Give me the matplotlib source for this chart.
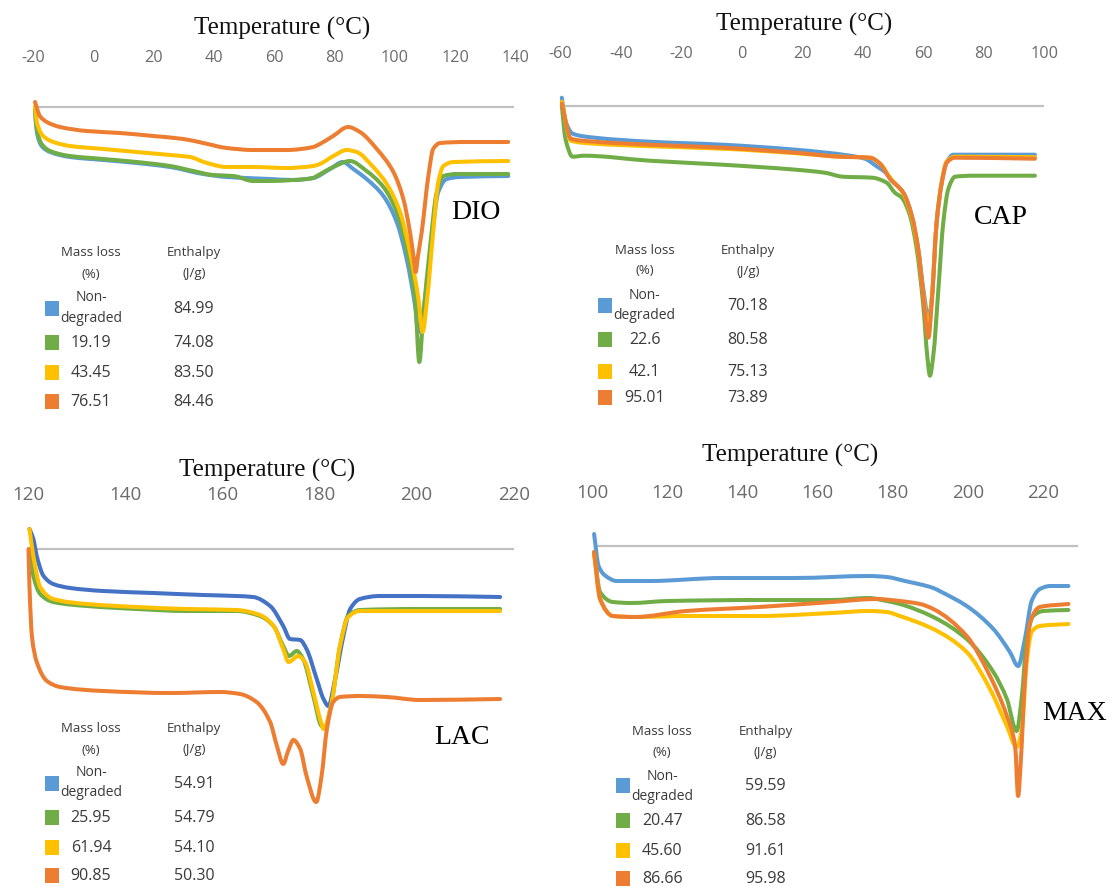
import numpy as np
import matplotlib
matplotlib.use("Agg")
import matplotlib.pyplot as plt
from matplotlib.path import Path
from matplotlib.patches import PathPatch, Rectangle

# ---------------- data: DSC heat flow (a.u., endo down) vs temperature (°C) ----------------
# DIO
dio_T_blue = [-19.4, -18.8, -17.2, -14.4, -7.8, 3.3, 14.3, 25.4, 36.4, 44.2, 50.8, 58.6, 66.3, 72.9, 78.5,
              82.7, 86.2, 90.6, 96.2, 100.6, 103.9, 106.7, 107.8, 110.5, 112.2, 114.4, 117.2, 121.6, 137.6]
dio_hf_blue = [-0.4, -2.5, -3.9, -4.5, -5.0, -5.3, -5.6, -6.0, -6.7, -7.0, -7.1, -7.2, -7.3, -7.1, -6.2,
               -5.5, -6.2, -7.2, -8.9, -11.5, -15.2, -19.9, -22.5, -18.0, -13.2, -8.5, -7.2, -7.0, -6.9]
dio_T_green = [-19.4, -18.8, -17.2, -14.4, -7.8, 3.3, 14.3, 25.4, 33.1, 39.7, 46.4, 53.0, 58.6, 66.3, 72.9,
               74.1, 79.6, 85.1, 90.6, 96.2, 100.6, 103.9, 106.7, 108.1, 109.4, 111.6, 113.9, 116.1, 120.5, 137.6]
dio_hf_green = [-0.2, -2.2, -3.7, -4.4, -4.9, -5.2, -5.5, -5.9, -6.4, -6.8, -6.9, -7.4, -7.4, -7.3, -7.1,
                -6.9, -6.0, -5.4, -6.4, -8.0, -10.5, -14.2, -19.2, -25.5, -20.9, -14.2, -8.5, -6.9, -6.7, -6.7]
dio_T_yellow = [-19.4, -18.8, -16.7, -13.3, -7.8, 3.3, 14.3, 25.4, 32.0, 37.6, 44.2, 53.0, 64.1, 72.9, 75.1,
                79.6, 84.0, 87.3, 92.8, 97.3, 101.7, 105.0, 107.8, 109.2, 110.7, 112.7, 114.4, 116.1, 119.4, 137.6]
dio_hf_yellow = [0.1, -1.5, -2.9, -3.5, -3.9, -4.2, -4.5, -4.8, -5.0, -5.6, -6.0, -6.0, -6.1, -5.9, -5.7,
                 -4.9, -4.3, -4.5, -6.0, -7.7, -10.5, -14.5, -19.2, -22.5, -19.2, -12.5, -7.5, -5.9, -5.5, -5.4]
dio_T_orange = [-19.4, -17.8, -15.5, -11.1, -2.3, 8.8, 19.8, 29.8, 36.4, 44.2, 53.0, 64.1, 72.9, 75.1, 79.5,
                84.5, 88.4, 94.0, 99.5, 102.8, 105.0, 106.2, 106.9, 107.6, 108.9, 111.1, 112.7, 115.0, 123.8, 137.6]
dio_hf_orange = [0.5, -0.9, -1.5, -2.0, -2.4, -2.6, -2.9, -3.2, -3.6, -4.1, -4.3, -4.3, -4.0, -3.7, -2.9,
                 -2.0, -2.5, -4.2, -6.5, -9.2, -12.5, -15.0, -16.5, -15.0, -12.5, -6.9, -4.2, -3.6, -3.5, -3.5]

# CAP
cap_T_blue = [-59.5, -58.3, -55.9, -48.6, -30.5, -6.4, 17.8, 35.8, 40.7, 44.3, 47.9, 49.0, 53.4, 56.2,
              58.3, 60.0, 61.7, 62.8, 64.4, 66.1, 67.7, 69.9, 96.9]
cap_hf_blue = [0.8, -1.5, -2.8, -3.2, -3.6, -3.9, -4.4, -5.0, -5.3, -6.0, -6.8, -7.3, -8.7, -11.0,
               -14.3, -18.3, -21.3, -19.3, -11.7, -7.7, -5.7, -4.9, -4.9]
cap_T_green = [-59.5, -58.3, -55.9, -52.2, -30.5, -6.4, 17.8, 27.4, 33.4, 43.1, 47.9, 50.6, 52.9, 55.6,
               57.8, 60.0, 61.3, 62.2, 63.3, 65.0, 66.6, 68.3, 70.5, 76.5, 96.9]
cap_hf_green = [0.0, -3.3, -5.1, -5.0, -5.5, -5.9, -6.4, -6.7, -7.1, -7.2, -7.7, -8.7, -9.2, -11.0,
                -14.3, -20.0, -25.0, -27.0, -25.0, -18.3, -11.7, -8.3, -7.1, -7.0, -7.0]
cap_T_yellow = [-59.5, -56.5, -48.6, -30.5, -6.4, 17.8, 32.5, 42.4, 45.7, 49.0, 53.4, 56.2, 58.3, 60.0,
                61.7, 62.8, 64.4, 66.1, 67.7, 70.5, 96.9]
cap_hf_yellow = [0.4, -3.5, -3.8, -4.05, -4.3, -4.75, -5.1, -5.2, -5.8, -7.2, -8.8, -11.2, -14.5, -18.8,
                 -22.3, -19.3, -11.7, -7.6, -5.6, -5.1, -5.15]
cap_T_orange = [-59.5, -56.5, -48.6, -30.5, -6.4, 17.8, 32.5, 42.4, 45.7, 49.0, 53.4, 56.2, 58.3, 60.0,
                61.7, 62.8, 64.4, 66.1, 67.7, 70.5, 96.9]
cap_hf_orange = [0.2, -3.3, -3.6, -3.9, -4.2, -4.7, -5.1, -5.2, -5.8, -7.3, -8.7, -11.0, -14.3, -19.0,
                 -23.2, -19.7, -11.7, -7.7, -5.7, -5.2, -5.3]

# LAC
lac_T_blue = [120.2, 121.0, 121.7, 123.1, 125.1, 128.6, 135.4, 145.7, 156.0, 162.9, 166.3, 169.8, 172.5,
              173.9, 176.0, 177.3, 179.4, 180.8, 181.8, 183.2, 184.9, 186.3, 188.3, 192.4, 200.7, 217.2]
lac_hf_blue = [2.0, 1.0, -0.7, -2.7, -3.5, -3.9, -4.2, -4.4, -4.6, -4.7, -4.8, -5.7, -7.7,
               -9.0, -9.1, -10.0, -13.0, -15.0, -15.7, -13.0, -8.7, -6.0, -5.0, -4.7, -4.7, -4.8]
lac_T_green = [120.2, 121.0, 122.4, 125.1, 132.0, 142.3, 152.6, 162.9, 167.7, 170.5, 172.5, 173.7, 175.3,
               176.6, 178.7, 180.4, 181.1, 182.5, 184.2, 185.9, 188.3, 200.7, 217.2]
lac_hf_green = [0.0, -2.7, -4.5, -5.3, -5.7, -6.0, -6.2, -6.2, -6.7, -7.7, -9.7, -10.7, -10.2,
                -11.0, -14.7, -17.7, -17.8, -15.3, -9.7, -6.7, -6.1, -6.0, -6.0]
lac_T_yellow = [120.2, 121.0, 122.4, 125.1, 132.0, 142.3, 152.6, 162.9, 167.7, 170.5, 172.5, 173.6, 175.6,
                177.0, 178.7, 180.4, 180.8, 182.5, 184.2, 185.9, 188.3, 200.7, 217.2]
lac_hf_yellow = [2.0, -0.7, -3.8, -5.0, -5.5, -5.8, -6.0, -6.1, -6.6, -7.7, -10.0, -11.3, -10.7,
                 -11.3, -14.3, -17.5, -18.0, -15.3, -9.7, -6.8, -6.2, -6.2, -6.2]
lac_T_orange = [120.0, 120.2, 120.7, 121.7, 123.8, 126.5, 135.4, 149.2, 159.5, 163.6, 167.0, 169.8, 171.2,
                172.5, 173.5, 174.6, 176.0, 177.3, 179.3, 180.4, 181.5, 182.8, 184.2, 188.3, 193.8, 200.7, 217.2]
lac_hf_orange = [0.0, -3.7, -8.7, -11.3, -13.2, -13.8, -14.2, -14.4, -14.3, -14.5, -15.3, -17.3, -19.7,
                 -21.5, -20.2, -19.1, -20.0, -22.7, -25.3, -22.7, -18.0, -15.3, -14.8, -14.7, -14.8, -15.1, -15.0]

# MAX
max_T_blue = [100.5, 101.7, 103.6, 106.5, 115.3, 134.7, 154.1, 173.6, 178.4, 183.3, 190.8, 193.0, 199.7,
              206.8, 211.2, 213.4, 215.2, 217.0, 219.2, 221.9, 226.8]
max_hf_blue = [1.2, -2.0, -3.0, -3.5, -3.5, -3.2, -3.2, -3.0, -3.1, -3.5, -4.2, -4.6, -6.0,
               -8.3, -10.6, -12.0, -9.3, -5.5, -4.3, -4.0, -4.0]
max_T_green = [100.5, 102.1, 105.5, 110.4, 120.1, 144.4, 163.8, 173.6, 178.4, 181.9, 190.8, 199.7, 206.8,
               210.4, 213.0, 214.4, 215.7, 217.4, 220.1, 226.8]
max_hf_green = [-0.6, -4.6, -5.6, -5.7, -5.5, -5.4, -5.4, -5.2, -5.5, -5.8, -7.1, -9.3, -12.6,
                -15.3, -18.5, -15.0, -9.3, -7.0, -6.5, -6.4]
max_T_yellow = [100.5, 102.1, 105.5, 111.4, 125.0, 144.4, 163.8, 173.6, 178.4, 181.9, 190.8, 199.7, 205.9,
                210.4, 213.0, 214.4, 215.7, 217.0, 219.2, 226.8]
max_hf_yellow = [-0.8, -5.3, -7.0, -7.1, -7.0, -7.0, -6.7, -6.5, -6.6, -7.0, -8.3, -10.6, -14.3,
                 -18.0, -20.1, -18.3, -11.6, -8.6, -8.0, -7.8]
max_T_orange = [100.5, 102.1, 105.5, 111.4, 125.0, 144.4, 163.8, 175.6, 181.9, 187.3, 190.8, 199.7, 205.9,
                210.4, 212.6, 213.4, 214.1, 215.2, 216.6, 219.2, 226.8]
max_hf_orange = [-0.6, -5.3, -7.0, -7.1, -6.5, -6.1, -5.6, -5.3, -5.5, -5.8, -6.3, -9.0, -13.0,
                 -17.0, -20.0, -25.0, -21.6, -13.3, -7.6, -6.1, -5.8]

# tick labels
dio_ticks = [-20, 0, 20, 40, 60, 80, 100, 120, 140]
cap_ticks = [-60, -40, -20, 0, 20, 40, 60, 80, 100]
lac_ticks = [120, 140, 160, 180, 200, 220]
max_ticks = [100, 120, 140, 160, 180, 200, 220]

# legend tables: mass loss (%) and enthalpy (J/g)
dio_mass = ["Non-degraded", "19.19", "43.45", "76.51"]
dio_enthalpy = ["84.99", "74.08", "83.50", "84.46"]
cap_mass = ["Non-degraded", "22.6", "42.1", "95.01"]
cap_enthalpy = ["70.18", "80.58", "75.13", "73.89"]
lac_mass = ["Non-degraded", "25.95", "61.94", "90.85"]
lac_enthalpy = ["54.91", "54.79", "54.10", "50.30"]
max_mass = ["Non-degraded", "20.47", "45.60", "86.66"]
max_enthalpy = ["59.59", "86.58", "91.61", "95.98"]

# ---------------- styling ----------------
BLUE = '#5B9BD5'
DARK_BLUE = '#4472C4'
GREEN = '#70AD47'
YELLOW = '#FFC000'
ORANGE = '#ED7D31'
TICK_COLOR = '#6b6b6b'
TABLE_COLOR = '#3a3a3a'
SERIF = ['Liberation Serif', 'DejaVu Serif']
SANS = ['Open Sans', 'DejaVu Sans']

W, H = 1111, 887
fig = plt.figure(figsize=(W / 100, H / 100), dpi=100)
fig.patch.set_facecolor('white')

PX_PER_UNIT = 10.0  # vertical pixels per heat-flow unit


def fx(x):
    return x / W


def fy(y):
    return 1 - y / H


def smooth_path(x, y):
    """Monotone cubic Hermite curve through the points, as Bezier segments."""
    x = np.asarray(x, float)
    y = np.asarray(y, float)
    h = np.diff(x)
    d = np.diff(y) / h
    m = np.zeros_like(x)
    m[0], m[-1] = d[0], d[-1]
    for i in range(1, len(x) - 1):
        if d[i - 1] * d[i] <= 0:
            m[i] = 0.0
        else:
            w1 = 2 * h[i] + h[i - 1]
            w2 = h[i] + 2 * h[i - 1]
            m[i] = (w1 + w2) / (w1 / d[i - 1] + w2 / d[i])
    verts = [(x[0], y[0])]
    codes = [Path.MOVETO]
    for i in range(len(h)):
        verts += [(x[i] + h[i] / 3, y[i] + m[i] * h[i] / 3),
                  (x[i + 1] - h[i] / 3, y[i + 1] - m[i + 1] * h[i] / 3),
                  (x[i + 1], y[i + 1])]
        codes += [Path.CURVE4] * 3
    return Path(verts, codes)


def panel(rect, xmap, base_y, ticks, tick_size, base_span, series, title_xy, name, name_xy):
    left, top, right, bottom = rect
    px0, t0, k = xmap
    ax = fig.add_axes([fx(left), fy(bottom), (right - left) / W, (bottom - top) / H])
    ax.set_facecolor('none')
    ax.set_xlim(t0 + (left - px0) / k, t0 + (right - px0) / k)
    ax.set_ylim((base_y - bottom) / PX_PER_UNIT, (base_y - top) / PX_PER_UNIT)
    for s in ax.spines.values():
        s.set_visible(False)
    ax.set_yticks([])
    ax.xaxis.tick_top()
    ax.set_xticks(ticks)
    ax.set_xticklabels([str(t).replace('\u2212', '-') for t in ticks], fontfamily=SANS)
    ax.tick_params(axis='x', length=0, pad=3, labelsize=tick_size, labelcolor=TICK_COLOR)
    ax.plot(base_span, [0, 0], color='#c0c0c0', lw=1.6, solid_capstyle='butt', zorder=1)
    for T, hf, c in series:
        ax.add_patch(PathPatch(smooth_path(T, hf), facecolor='none', edgecolor=c, lw=2.9,
                               capstyle='round', joinstyle='round', zorder=2))
    fig.text(fx(title_xy[0]), fy(title_xy[1]), 'Temperature (°C)', fontfamily=SERIF,
             fontsize=18, color='#111111', ha='center', va='center')
    fig.text(fx(name_xy[0]), fy(name_xy[1]), name, fontfamily=SERIF, fontsize=20,
             color='black', ha='center', va='center')
    return ax


def table(sq_x, col1, col2, head_y, rows_y, non_y, colors, mass, enthalpy):
    fig.text(fx(col1), fy(head_y[0]), 'Mass loss', fontfamily=SANS, fontsize=9.5,
             color=TABLE_COLOR, ha='center', va='center')
    fig.text(fx(col1), fy(head_y[1]), '(%)', fontfamily=SANS, fontsize=9.5,
             color=TABLE_COLOR, ha='center', va='center')
    fig.text(fx(col2), fy(head_y[0]), 'Enthalpy', fontfamily=SANS, fontsize=9.5,
             color=TABLE_COLOR, ha='center', va='center')
    fig.text(fx(col2), fy(head_y[1]), '(J/g)', fontfamily=SANS, fontsize=9.5,
             color=TABLE_COLOR, ha='center', va='center')
    for i, (c, m, e) in enumerate(zip(colors, mass, enthalpy)):
        y = rows_y[i]
        fig.patches.append(Rectangle((fx(sq_x - 7), fy(y + 7.5)), 14 / W, 15 / H,
                                     transform=fig.transFigure, facecolor=c, edgecolor='none'))
        if m == "Non-degraded":
            fig.text(fx(col1), fy(non_y[0]), 'Non-', fontfamily=SANS, fontsize=10,
                     color=TABLE_COLOR, ha='center', va='center')
            fig.text(fx(col1), fy(non_y[1]), 'degraded', fontfamily=SANS, fontsize=10,
                     color=TABLE_COLOR, ha='center', va='center')
        else:
            fig.text(fx(col1), fy(y), m, fontfamily=SANS, fontsize=11.5,
                     color=TABLE_COLOR, ha='center', va='center')
        fig.text(fx(col2), fy(y), e, fontfamily=SANS, fontsize=11.5,
                 color=TABLE_COLOR, ha='center', va='center')


# DIO (top left)
panel((20, 70, 530, 420), (93.5, 0.0, 3.014), 108, dio_ticks, 11.7, [-19.7, 139.5],
      [(dio_T_blue, dio_hf_blue, BLUE), (dio_T_green, dio_hf_green, GREEN),
       (dio_T_yellow, dio_hf_yellow, YELLOW), (dio_T_orange, dio_hf_orange, ORANGE)],
      (281.8, 28), 'DIO', (476, 213))
table(51.5, 91, 194, (253, 274), [309, 343, 373, 402], (298, 318),
      [BLUE, GREEN, YELLOW, ORANGE], dio_mass, dio_enthalpy)

# CAP (top right)
panel((545, 66, 1060, 420), (741.8, 0.0, 3.025), 106.7, cap_ticks, 11.7, [-59.3, 100.0],
      [(cap_T_blue, cap_hf_blue, BLUE), (cap_T_green, cap_hf_green, GREEN),
       (cap_T_yellow, cap_hf_yellow, YELLOW), (cap_T_orange, cap_hf_orange, ORANGE)],
      (804.6, 24), 'CAP', (1001, 218))
table(605, 644.7, 748, (250.7, 271), [306, 340.5, 372, 398], (295.7, 315.7),
      [BLUE, GREEN, YELLOW, ORANGE], cap_mass, cap_enthalpy)

# LAC (bottom left)
panel((10, 508, 530, 887), (28.5, 120.0, 4.852), 550, lac_ticks, 13.5, [121.2, 220.0],
      [(lac_T_blue, lac_hf_blue, DARK_BLUE), (lac_T_green, lac_hf_green, GREEN),
       (lac_T_yellow, lac_hf_yellow, YELLOW), (lac_T_orange, lac_hf_orange, ORANGE)],
      (267.4, 470), 'LAC', (462, 738))
table(51.5, 91, 194, (729, 750), [784, 818.5, 848, 876], (772.7, 792.7),
      [BLUE, GREEN, YELLOW, ORANGE], lac_mass, lac_enthalpy)

# MAX (bottom right)
panel((560, 506, 1100, 887), (592.2, 100.0, 3.756), 547, max_ticks, 13.5, [100.7, 229.4],
      [(max_T_blue, max_hf_blue, BLUE), (max_T_green, max_hf_green, GREEN),
       (max_T_yellow, max_hf_yellow, YELLOW), (max_T_orange, max_hf_orange, ORANGE)],
      (790, 455), 'MAX', (1075, 713))
table(622.8, 662.3, 765.5, (731.7, 752.3), [786, 821, 851.5, 879.3], (776.7, 796.7),
      [BLUE, GREEN, YELLOW, ORANGE], max_mass, max_enthalpy)

fig.savefig('out.png', dpi=100, facecolor='white')
